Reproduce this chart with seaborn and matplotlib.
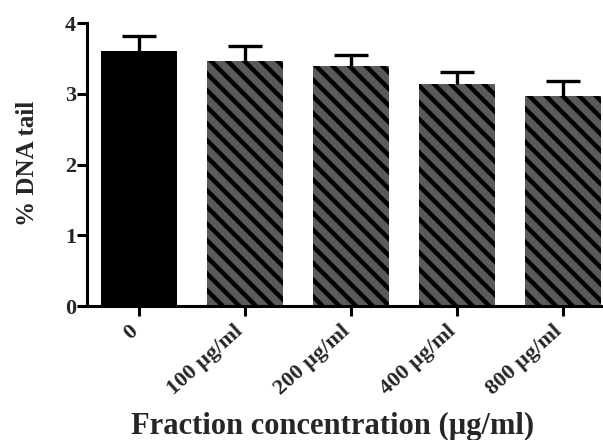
import matplotlib
matplotlib.use("Agg")
import matplotlib.pyplot as plt
import matplotlib.transforms as mtransforms
import seaborn as sns
import numpy as np

categories = ["0", "100 µg/ml", "200 µg/ml", "400 µg/ml", "800 µg/ml"]
means = [3.60, 3.46, 3.39, 3.14, 2.97]
sems = [0.21, 0.21, 0.16, 0.17, 0.21]
yticks = [0, 1, 2, 3, 4]
bar_colors = ["#000000", "#5a5a5a", "#5a5a5a", "#5a5a5a", "#5a5a5a"]
hatches = ["", "\\\\", "\\\\", "\\\\", "\\\\"]

sns.set_style("ticks")
plt.rcParams["font.family"] = ["Liberation Serif", "DejaVu Serif"]
plt.rcParams["font.weight"] = "bold"
plt.rcParams["hatch.linewidth"] = 3.2
plt.rcParams["hatch.color"] = "black"

fig = plt.figure(figsize=(6.03, 4.40), dpi=100)
ax = fig.add_axes([87/603, 1-306/440, 516/603, 283/440])

sns.barplot(x=categories, y=means, hue=categories, palette=bar_colors,
            legend=False, width=0.71, saturation=1, ax=ax, errorbar=None,
            edgecolor="black", linewidth=0)
for p, h in zip(ax.patches, hatches):
    if h:
        p.set_hatch(h)

eb = ax.errorbar(np.arange(len(means)), means, yerr=[np.zeros(len(sems)), sems],
                 fmt="none", ecolor="black", elinewidth=2.4, capsize=12.5,
                 capthick=2.4, zorder=3)
for cl in eb[1]:
    if np.allclose(cl.get_ydata(), means):
        cl.set_visible(False)

ax.set_ylim(0, 4)
ax.set_xlim(-0.49, 4.377)

for s in ["top", "right"]:
    ax.spines[s].set_visible(False)
for s in ["left", "bottom"]:
    ax.spines[s].set_linewidth(2.2)
    ax.spines[s].set_color("black")
ax.tick_params(axis="both", width=2.2, length=7, color="black", direction="out")
ax.tick_params(axis="y", pad=1)
ax.tick_params(axis="x", pad=4)

ax.set_yticks(yticks)
ax.set_yticklabels([str(t) for t in yticks], fontsize=16, fontweight="bold")
ax.set_xticks(range(len(categories)))
ax.set_xticklabels(categories, fontsize=16, fontweight="bold", rotation=42,
                   ha="right", va="top", rotation_mode="anchor")
shift = mtransforms.ScaledTranslation(-0.11, 0, fig.dpi_scale_trans)
for lab in ax.get_xticklabels():
    lab.set_transform(lab.get_transform() + shift)

ax.set_ylabel("% DNA tail", fontsize=18, fontweight="bold")
ax.yaxis.set_label_coords(-0.093, 0.504)
ax.set_xlabel("Fraction concentration (µg/ml)", fontsize=22, fontweight="bold")
ax.xaxis.set_label_coords(0.476, -0.373)

fig.savefig("out.png", dpi=100)
